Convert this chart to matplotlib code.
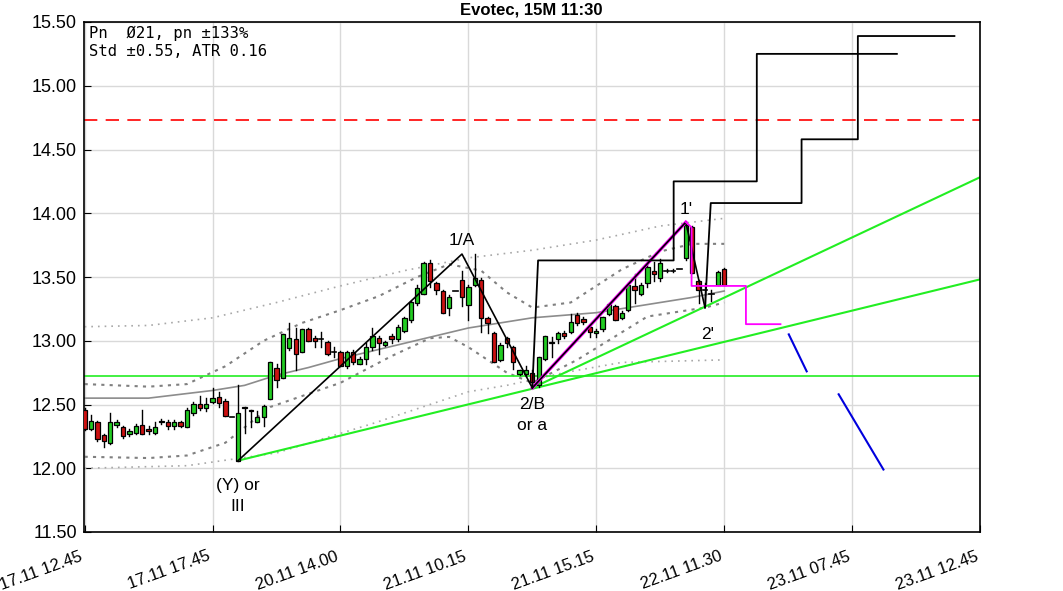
import matplotlib
matplotlib.use("Agg")
import matplotlib.pyplot as plt
from matplotlib.patches import Rectangle
import numpy as np

plt.rcParams['font.family'] = ['Liberation Sans', 'DejaVu Sans']

# ---------------- data ----------------
tick_labels = ["17.11 12.45", "17.11 17.45", "20.11 14.00", "21.11 10.15",
               "21.11 15.15", "22.11 11.30", "23.11 07.45", "23.11 12.45"]
tick_pos = [0, 20, 40, 60, 80, 100, 120, 140]

opens = [12.46, 12.31, 12.36, 12.26, 12.20, 12.34, 12.32, 12.27, 12.28, 12.34,
         12.31, 12.28, 12.36, 12.36, 12.33, 12.36, 12.32, 12.43, 12.50, 12.47,
         12.52, 12.56, 12.53, 12.40, 12.06, 12.48, 12.46, 12.36, 12.40, 12.54,
         12.79, 12.71, 12.94, 13.01, 12.91, 13.09, 13.02, 13.01, 12.99, 12.91,
         12.91, 12.80, 12.91, 12.82, 12.86, 12.95, 13.02, 12.97, 13.04, 13.01,
         13.08, 13.16, 13.30, 13.37, 13.61, 13.45, 13.39, 13.26, 13.39, 13.48,
         13.28, 13.44, 13.48, 13.18, 13.06, 12.85, 13.02, 12.95, 12.74, 12.74,
         12.75, 12.65, 12.86, 12.98, 13.01, 13.06, 13.07, 13.20, 13.17, 13.11,
         13.06, 13.09, 13.21, 13.27, 13.18, 13.24, 13.43, 13.37, 13.45, 13.55,
         13.49, 13.55, 13.55, 13.56, 13.65, 13.89, 13.47, 13.40, 13.37, 13.44,
         13.56]
highs = [12.47, 12.42, 12.37, 12.27, 12.43, 12.38, 12.33, 12.31, 12.35, 12.46,
         12.33, 12.36, 12.39, 12.38, 12.38, 12.37, 12.47, 12.52, 12.57, 12.55,
         12.63, 12.60, 12.54, 12.40, 12.65, 12.48, 12.46, 12.45, 12.50, 12.83,
         12.82, 13.05, 13.14, 13.10, 13.09, 13.10, 13.04, 13.07, 13.00, 12.95,
         12.92, 12.92, 12.93, 12.87, 12.98, 13.10, 13.04, 13.00, 13.05, 13.12,
         13.19, 13.31, 13.44, 13.62, 13.63, 13.46, 13.40, 13.36, 13.39, 13.55,
         13.44, 13.68, 13.49, 13.19, 13.07, 12.98, 13.03, 12.96, 12.77, 12.80,
         12.77, 12.87, 13.04, 13.03, 13.07, 13.08, 13.21, 13.22, 13.19, 13.12,
         13.09, 13.19, 13.30, 13.28, 13.23, 13.45, 13.52, 13.45, 13.60, 13.62,
         13.64, 13.56, 13.56, 13.56, 13.93, 13.90, 13.48, 13.45, 13.40, 13.55,
         13.57]
lows = [12.30, 12.30, 12.21, 12.17, 12.19, 12.32, 12.24, 12.25, 12.27, 12.27,
        12.27, 12.27, 12.35, 12.31, 12.31, 12.32, 12.32, 12.42, 12.46, 12.45,
        12.51, 12.48, 12.41, 12.40, 12.06, 12.28, 12.32, 12.36, 12.33, 12.54,
        12.64, 12.71, 12.93, 12.77, 12.91, 13.00, 12.95, 12.95, 12.89, 12.87,
        12.80, 12.79, 12.82, 12.82, 12.82, 12.93, 12.90, 12.96, 12.98, 13.00,
        13.07, 13.15, 13.28, 13.37, 13.42, 13.37, 13.22, 13.20, 13.39, 13.27,
        13.16, 13.43, 13.07, 13.06, 12.83, 12.84, 12.95, 12.78, 12.73, 12.72,
        12.63, 12.64, 12.85, 12.87, 12.98, 13.02, 13.06, 13.12, 13.13, 13.03,
        13.03, 13.08, 13.20, 13.16, 13.17, 13.23, 13.30, 13.36, 13.42, 13.47,
        13.47, 13.54, 13.54, 13.56, 13.63, 13.53, 13.30, 13.28, 13.31, 13.44,
        13.44]
closes = [12.31, 12.37, 12.23, 12.21, 12.36, 12.36, 12.25, 12.29, 12.33, 12.27,
          12.29, 12.32, 12.37, 12.33, 12.36, 12.33, 12.46, 12.50, 12.47, 12.50,
          12.55, 12.51, 12.41, 12.40, 12.43, 12.47, 12.45, 12.40, 12.49, 12.83,
          12.69, 13.05, 13.02, 12.90, 13.09, 13.00, 13.00, 13.01, 12.90, 12.91,
          12.80, 12.91, 12.83, 12.86, 12.95, 13.04, 12.98, 12.99, 13.01, 13.11,
          13.18, 13.30, 13.41, 13.61, 13.47, 13.40, 13.22, 13.34, 13.39, 13.34,
          13.42, 13.49, 13.18, 13.14, 12.83, 12.97, 12.98, 12.83, 12.77, 12.77,
          12.68, 12.87, 13.04, 12.99, 13.06, 13.04, 13.15, 13.14, 13.15, 13.07,
          13.08, 13.19, 13.29, 13.16, 13.22, 13.44, 13.40, 13.44, 13.58, 13.52,
          13.61, 13.55, 13.55, 13.56, 13.91, 13.53, 13.40, 13.40, 13.37, 13.54,
          13.44]

# moving average
ma_x = [0, 10, 20, 25, 30, 35, 40, 45, 50, 55, 60, 65, 70, 75, 80, 85, 90, 95, 100]
ma_y = [12.55, 12.55, 12.61, 12.65, 12.73, 12.79, 12.86, 12.92, 12.98, 13.04,
        13.10, 13.14, 13.18, 13.20, 13.22, 13.26, 13.30, 13.34, 13.39]

# outer bands (light dotted)
ob_up_x = [0, 10, 20, 30, 40, 50, 60, 70, 80, 90, 100]
ob_up = [13.11, 13.12, 13.18, 13.30, 13.43, 13.55, 13.65, 13.71, 13.79, 13.90, 13.96]
ob_lo_x = [0, 16, 30, 45, 60, 66, 75, 84, 100]
ob_lo = [12.00, 12.02, 12.12, 12.35, 12.60, 12.65, 12.75, 12.83, 12.85]

# inner bands (darker dotted)
ib_up_x = [0, 10, 16, 22, 28, 34, 40, 46, 52, 57, 62, 66, 70, 76, 84, 90, 95, 100]
ib_up = [12.66, 12.64, 12.66, 12.80, 13.00, 13.14, 13.24, 13.35, 13.50, 13.60, 13.55,
         13.38, 13.26, 13.30, 13.56, 13.70, 13.76, 13.76]
ib_lo_x = [0, 10, 16, 22, 29, 40, 48, 54, 57, 60, 66, 70, 77, 88, 97, 100]
ib_lo = [12.09, 12.08, 12.10, 12.20, 12.48, 12.67, 12.88, 13.02, 13.03, 12.95,
         12.75, 12.67, 12.85, 13.19, 13.26, 13.30]

# wave count (black zigzag)
zz_x = [24, 59, 70, 94, 97]
zz_y = [12.06, 13.68, 12.63, 13.93, 13.26]

# projection steps (black)
st1_x = [70, 70.9, 92.1, 92.1, 105.1, 105.1, 127.0]
st1_y = [12.63, 13.63, 13.63, 14.25, 14.25, 15.25, 15.25]
st2_x = [97, 97.9, 112.1, 112.1, 120.9, 120.9, 136.0]
st2_y = [13.26, 14.08, 14.08, 14.58, 14.58, 15.39, 15.39]

# magenta path
mg_x = [70, 94, 94.9, 94.9, 103.4, 103.4, 108.8]
mg_y = [12.63, 13.93, 13.89, 13.43, 13.43, 13.13, 13.13]

# green trend lines
gl1_x = [24, 139.9]
gl1_y = [12.06, 13.48]
gl2_x = [70, 139.9]
gl2_y = [12.63, 14.28]
green_h = 12.72
red_h = 14.73

# blue segments
bl1_x = [110.1, 112.9]
bl1_y = [13.05, 12.76]
bl2_x = [117.9, 124.9]
bl2_y = [12.58, 11.99]

labels = [("1/A", 59, 13.79), ("(Y) or\nIII", 24, 11.78), ("2/B\nor a", 70, 12.42),
          ("1'", 94.1, 14.03), ("2'", 97.4, 13.05)]

# ---------------- figure ----------------
fig = plt.figure(figsize=(10.63, 5.91), dpi=100)
ax = fig.add_axes([84 / 1063, 1 - 532 / 591, 896 / 1063, 510 / 591])

ax.set_xlim(-0.1, 139.9)
ax.set_ylim(11.5, 15.5)
ax.set_yticks(np.arange(11.5, 15.51, 0.5))
ax.set_yticklabels([f"{v:.2f}" for v in np.arange(11.5, 15.51, 0.5)], fontsize=13)
ax.set_xticks(tick_pos)
ax.set_xticklabels(tick_labels, rotation=20, ha='right', fontsize=12)
ax.tick_params(direction='in', length=5, pad=5)
ax.tick_params(axis='x', pad=12)
ax.grid(True, color='#d9d9d9', linewidth=1.0)
ax.set_axisbelow(True)
for s in ax.spines.values():
    s.set_linewidth(1.2)

ax.plot(ob_up_x, ob_up, color='#a8a8a8', linestyle=(0, (1, 3)), linewidth=1.2)
ax.plot(ob_lo_x, ob_lo, color='#a8a8a8', linestyle=(0, (1, 3)), linewidth=1.2)
ax.plot(ib_up_x, ib_up, color='#808080', linestyle=(0, (1.5, 2.5)), linewidth=1.5)
ax.plot(ib_lo_x, ib_lo, color='#808080', linestyle=(0, (1.5, 2.5)), linewidth=1.5)
ax.plot(ma_x, ma_y, color='#8c8c8c', linewidth=1.2)

ax.axhline(green_h, color='#22ee22', linewidth=1.2)
ax.axhline(red_h, color='#ff0000', linewidth=1.2, linestyle=(0, (8, 5)))
ax.plot(gl1_x, gl1_y, color='#22ee22', linewidth=1.5)
ax.plot(gl2_x, gl2_y, color='#22ee22', linewidth=1.5)

# candles
w = 0.68
for i, (o, h, l, c) in enumerate(zip(opens, highs, lows, closes)):
    ax.plot([i, i], [l, h], color='black', linewidth=1.0, zorder=3)
    if abs(c - o) < 0.005:
        ax.plot([i - w / 2, i + w / 2], [c, c], color='black', linewidth=1.2, zorder=4)
    else:
        col = '#22cc22' if c > o else '#cc1111'
        ax.add_patch(Rectangle((i - w / 2, min(o, c)), w, abs(c - o), facecolor=col,
                               edgecolor='black', linewidth=0.9, zorder=4))

# magenta leg under the black zigzag, rest of the magenta path thin
ax.plot(mg_x[:2], mg_y[:2], color='#ff00ff', linewidth=2.4, zorder=5)
ax.plot(zz_x, zz_y, color='black', linewidth=1.2, zorder=6)
ax.plot(mg_x[1:], mg_y[1:], color='#ff00ff', linewidth=1.3, zorder=6)
ax.plot(st1_x, st1_y, color='black', linewidth=1.3, zorder=5)
ax.plot(st2_x, st2_y, color='black', linewidth=1.3, zorder=5)
ax.plot(bl1_x, bl1_y, color='#0000dd', linewidth=1.5)
ax.plot(bl2_x, bl2_y, color='#0000dd', linewidth=1.5)

for txt, x, y in labels:
    ax.text(x, y, txt, ha='center', va='center', fontsize=12.5, linespacing=1.5, zorder=7)

ax.text(0.006, 0.992, "Pn  \u00d821, pn \u00b1133%\nStd \u00b10.55, ATR 0.16",
        transform=ax.transAxes, ha='left', va='top', fontsize=11.2,
        family=['DejaVu Sans Mono'], linespacing=1.2)

fig.text(0.5, 1 - 10 / 591, "Evotec, 15M 11:30", ha='center', va='center',
         fontsize=12, fontweight='bold')

fig.savefig("out.png", dpi=100)
